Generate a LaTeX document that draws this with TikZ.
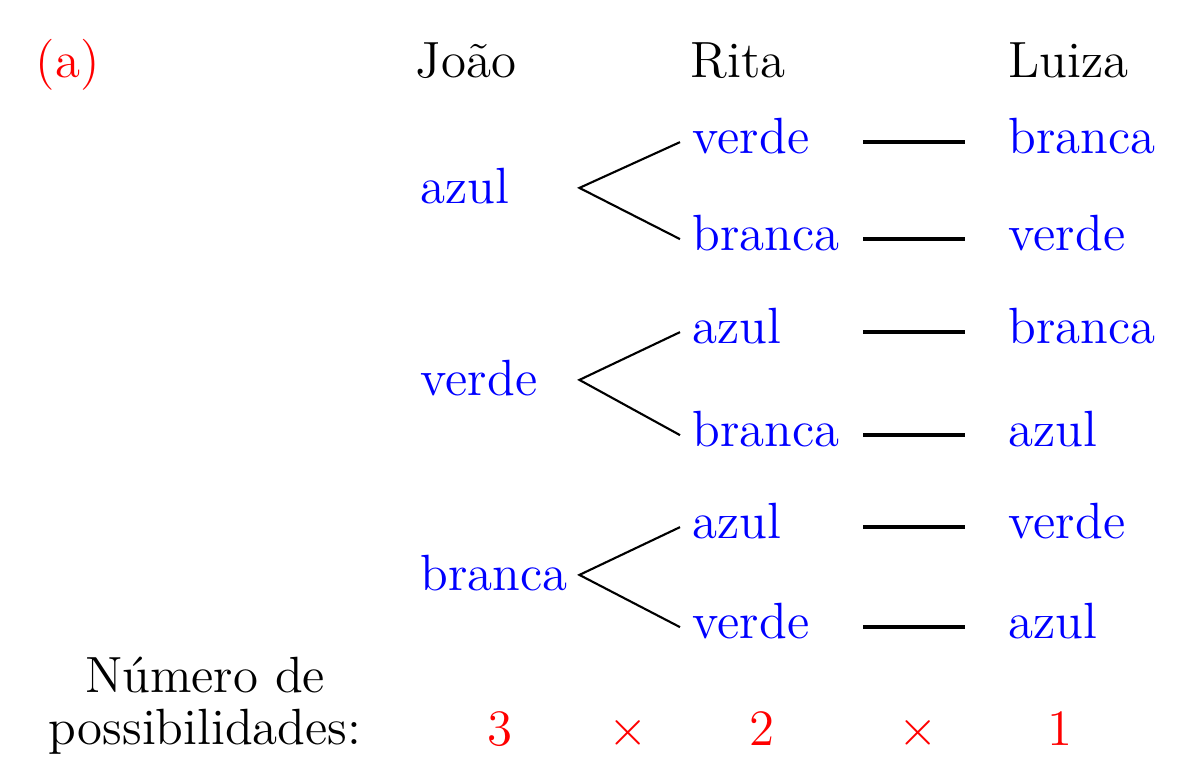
\documentclass[tikz,border=0pt]{standalone}
\usepackage{tikz}

\tikzset{
  every node/.style={font=\fontsize{14.5}{14.8}\selectfont},
  joao/.style={anchor=base west, text=blue, inner sep=0pt, text width=1.58cm, align=left, text height=8.6pt, text depth=0pt},
  rita/.style={anchor=base west, text=blue, inner ysep=0pt, inner xsep=0.12cm, text width=1.58cm, align=left, text height=6.2pt, text depth=0pt},
  luiza/.style={anchor=base west, text=blue, inner ysep=0pt, inner xsep=0.43cm, text height=6.2pt, text depth=0pt},
  head/.style={anchor=base west, inner sep=0pt},
  conta/.style={anchor=base, text=red, inner sep=0pt},
  ramo/.style={line width=0.6pt},
  traco/.style={line width=1.1pt}
}

\begin{document}
\begin{tikzpicture}
			%%%%% START %%%%%
			\useasboundingbox (0, 0) rectangle (11.79, -7.61);
			
			\node[head, text=red] (item) at (0.35, -0.77) {(a)};
			\node[anchor=base, inner sep=0pt] (hjoao) at (4.66, -0.77) {João};
			\node[head] (hrita) at (6.90, -0.77) {Rita};
			\node[head] (hluiza) at (10.08, -0.77) {Luiza};
			
			\node[joao] (j1) at (4.20, -2.03) {azul};
			\node[joao] (j2) at (4.20, -3.95) {verde};
			\node[joao] (j3) at (4.20, -5.90) {branca};
			
			\node[rita] (r1) at (6.80, -1.53) {verde};
			\node[rita] (r2) at (6.80, -2.50) {branca};
			\node[rita] (r3) at (6.80, -3.43) {azul};
			\node[rita] (r4) at (6.80, -4.46) {branca};
			\node[rita] (r5) at (6.80, -5.38) {azul};
			\node[rita] (r6) at (6.80, -6.38) {verde};
			
			\node[luiza] (l1) at (9.65, -1.53) {branca};
			\node[luiza] (l2) at (9.65, -2.50) {verde};
			\node[luiza] (l3) at (9.65, -3.43) {branca};
			\node[luiza] (l4) at (9.65, -4.46) {azul};
			\node[luiza] (l5) at (9.65, -5.38) {verde};
			\node[luiza] (l6) at (9.65, -6.38) {azul};
			
			\draw[ramo] (r1.west) -- (j1.east) -- (r2.west);
			\draw[ramo] (r3.west) -- (j2.east) -- (r4.west);
			\draw[ramo] (r5.west) -- (j3.east) -- (r6.west);
			
			\draw[traco] (r1.east) -- (l1.west);
			\draw[traco] (r2.east) -- (l2.west);
			\draw[traco] (r3.east) -- (l3.west);
			\draw[traco] (r4.east) -- (l4.west);
			\draw[traco] (r5.east) -- (l5.west);
			\draw[traco] (r6.east) -- (l6.west);
			
			\node[align=center, inner sep=0pt] (numero) at (2.05, -7.06) {Número de\\possibilidades:};
			
			\node[conta] (n1) at (5.00, -7.45) {3};
			\node[conta] (x1) at (6.28, -7.45) {$\times$};
			\node[conta] (n2) at (7.62, -7.45) {2};
			\node[conta] (x2) at (9.18, -7.45) {$\times$};
			\node[conta] (n3) at (10.60, -7.45) {1};
			
			%%%%% END %%%%%
\end{tikzpicture}
\end{document}
